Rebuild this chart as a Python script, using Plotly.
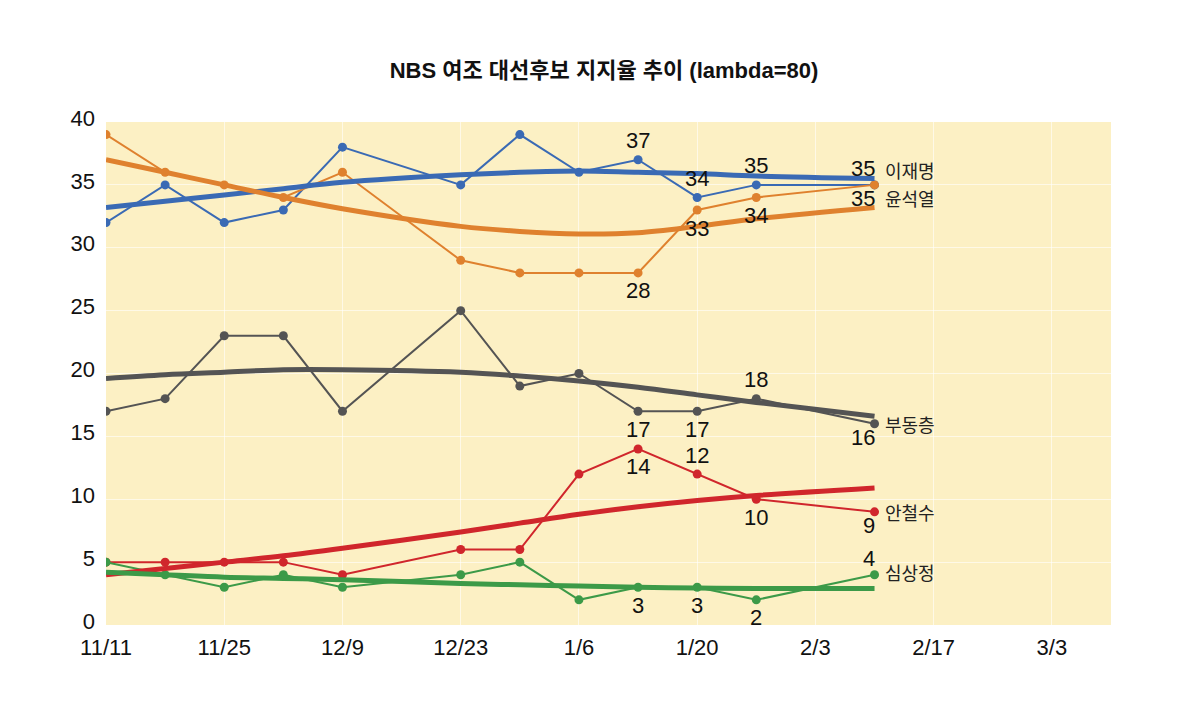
import plotly.graph_objects as go

dates = ["2021-11-11", "2021-11-18", "2021-11-25", "2021-12-02", "2021-12-09",
         "2021-12-23", "2021-12-30", "2022-01-06", "2022-01-13", "2022-01-20",
         "2022-01-27", "2022-02-10"]

names = ["이재명", "윤석열", "부동층", "안철수", "심상정"]

lee = [32, 35, 32, 33, 38, 35, 39, 36, 37, 34, 35, 35]
yoon = [39, 36, 35, 34, 36, 29, 28, 28, 28, 33, 34, 35]
undecided = [17, 18, 23, 23, 17, 25, 19, 20, 17, 17, 18, 16]
ahn = [5, 5, 5, 5, 4, 6, 6, 12, 14, 12, 10, 9]
sim = [5, 4, 3, 4, 3, 4, 5, 2, 3, 3, 2, 4]

lee_trend = [33.2, 33.7, 34.2, 34.7, 35.2, 35.8, 36.0, 36.1, 36.0, 35.9, 35.7, 35.5]
yoon_trend = [37.0, 36.0, 35.0, 34.0, 33.1, 31.7, 31.3, 31.1, 31.2, 31.7, 32.3, 33.2]
undecided_trend = [19.6, 19.9, 20.1, 20.3, 20.3, 20.1, 19.8, 19.4, 18.9, 18.3, 17.7, 16.6]
ahn_trend = [4.0, 4.5, 5.0, 5.5, 6.1, 7.4, 8.1, 8.8, 9.4, 9.9, 10.3, 10.9]
sim_trend = [4.2, 4.0, 3.8, 3.7, 3.6, 3.3, 3.2, 3.1, 3.0, 2.95, 2.9, 2.9]

tick_vals = ["2021-11-11", "2021-11-25", "2021-12-09", "2021-12-23", "2022-01-06",
             "2022-01-20", "2022-02-03", "2022-02-17", "2022-03-03"]
tick_text = ["11/11", "11/25", "12/9", "12/23", "1/6", "1/20", "2/3", "2/17", "3/3"]

series = [lee, yoon, undecided, ahn, sim]
trends = [lee_trend, yoon_trend, undecided_trend, ahn_trend, sim_trend]
colors = ["#3A6AB4", "#DF812E", "#545454", "#D0262C", "#3C9A48"]
name_shift = [15, -13, 0, 0, 3]

# (series index, point index, placement)
labels = [
    (0, 8, "above"), (0, 9, "above"), (0, 10, "above"), (0, 11, "above_left"),
    (1, 8, "below"), (1, 9, "below"), (1, 10, "below"), (1, 11, "below_left"),
    (2, 8, "below"), (2, 9, "below"), (2, 10, "above"), (2, 11, "below_left"),
    (3, 8, "below"), (3, 9, "above"), (3, 10, "below"), (3, 11, "below_left"),
    (4, 8, "below"), (4, 9, "below"), (4, 10, "below"), (4, 11, "above_left"),
]

fig = go.Figure()
for s, c in zip(series, colors):
    fig.add_trace(go.Scatter(x=dates, y=s, mode="lines+markers",
                             line=dict(color=c, width=2), marker=dict(color=c, size=9),
                             showlegend=False, hoverinfo="skip"))
for t, c in zip(trends, colors):
    fig.add_trace(go.Scatter(x=dates, y=t, mode="lines", line=dict(color=c, width=5, shape="spline"),
                             showlegend=False, hoverinfo="skip"))

num_font = dict(size=22, color="#111111", family="Liberation Sans, Arial, sans-serif")
annotations = []
for si, pi, pos in labels:
    v = series[si][pi]
    a = dict(x=dates[pi], y=v, text=str(v), showarrow=False, font=num_font)
    if pos == "above":
        a.update(yshift=19, xanchor="center")
    elif pos == "below":
        a.update(yshift=-18, xanchor="center")
    elif pos == "above_left":
        a.update(yshift=16, xanchor="right", xshift=2)
    else:
        a.update(yshift=-14, xanchor="right", xshift=2)
    annotations.append(a)

for si, nm in enumerate(names):
    annotations.append(dict(x=dates[-1], y=series[si][-1], text=nm, showarrow=False,
                            xanchor="left", xshift=8, yshift=name_shift[si],
                            font=dict(size=18, color="#222222", family="Noto Sans CJK KR, sans-serif")))

W, H = 1192, 708  # page body has an 8px margin
fig.update_layout(
    width=W, height=H,
    paper_bgcolor="white", plot_bgcolor="#FCF0C4",
    margin=dict(l=98, r=89, t=114, b=91, autoexpand=False),
    title=dict(text="<b>NBS 여조 대선후보 지지율 추이 (lambda=80)</b>", x=0.5, xanchor="center",
               y=1 - 62 / H, yanchor="middle",
               font=dict(size=22, color="#111111", family="Liberation Sans, Noto Sans CJK KR, sans-serif")),
    annotations=annotations,
)
fig.update_xaxes(type="date", range=["2021-11-11", "2022-03-10"], tickvals=tick_vals, ticktext=tick_text,
                 showgrid=True, gridcolor="rgba(255,255,255,0.6)", gridwidth=1, zeroline=False,
                 showline=False, ticks="", automargin=False, ticklabelstandoff=7,
                 tickfont=dict(size=22, color="#111111", family="Liberation Sans, Arial, sans-serif"))
fig.update_yaxes(range=[0, 40], tickvals=[0, 5, 10, 15, 20, 25, 30, 35, 40],
                 showgrid=True, gridcolor="rgba(255,255,255,0.6)", gridwidth=1, zeroline=False,
                 showline=False, ticks="", ticklabelstandoff=10, ticklabelshift=-4, automargin=False,
                 tickfont=dict(size=22, color="#111111", family="Liberation Sans, Arial, sans-serif"))

fig.write_html("out.html")
